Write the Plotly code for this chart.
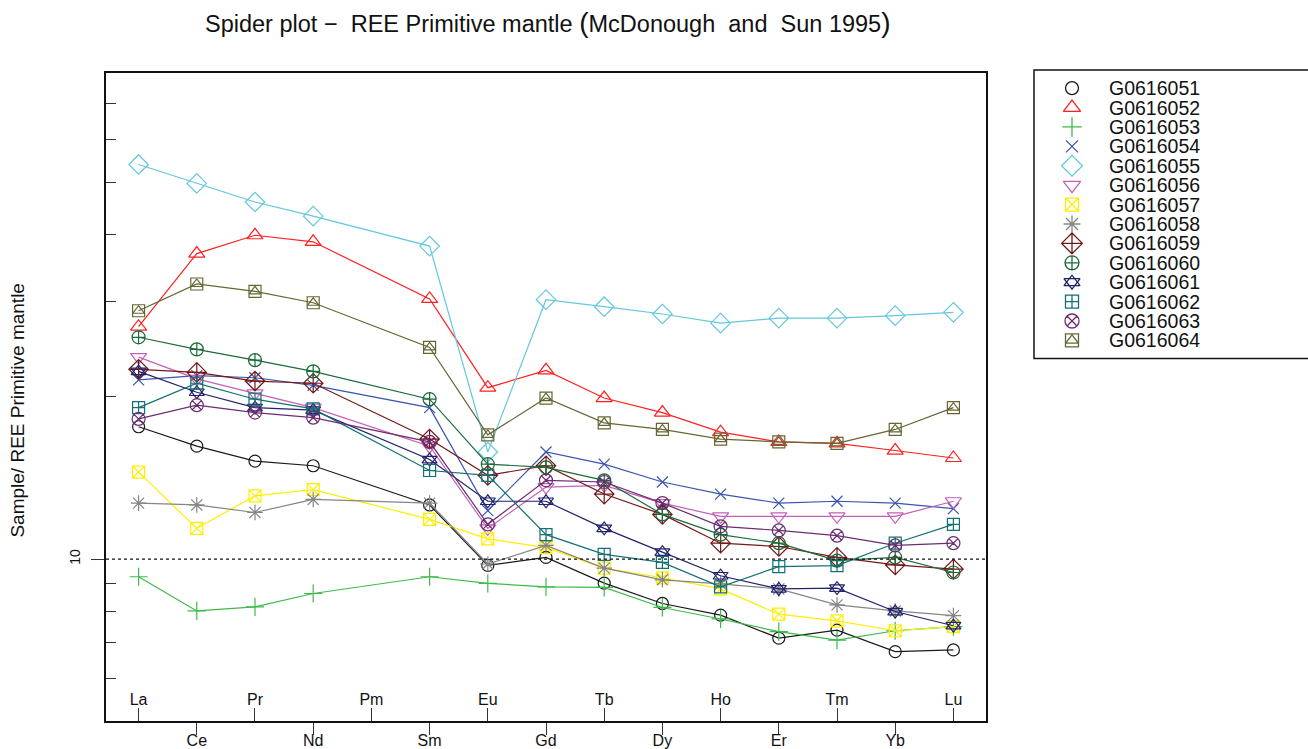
import plotly.graph_objects as go

W, H = 1308, 749
HD = 742  # effective vertical scale used for layout fractions

ELEMENTS = ["La", "Ce", "Pr", "Nd", "Pm", "Sm", "Eu", "Gd", "Tb", "Dy", "Ho", "Er", "Tm", "Yb", "Lu"]

# Normalised values (Sample / primitive mantle); Pm not analysed
G0616051 = [17.6, 16.2, 15.2, 14.9, None, 12.6, 9.73, 10.07, 9.02, 8.27, 7.87, 7.13, 7.38, 6.73, 6.78]
G0616052 = [27.0, 36.9, 39.9, 38.8, None, 30.4, 20.8, 22.4, 19.9, 18.7, 17.2, 16.5, 16.4, 15.9, 15.4]
G0616053 = [9.27, 8.01, 8.15, 8.63, None, 9.27, 9.01, 8.88, 8.86, 8.13, 7.74, 7.33, 7.07, 7.36, 7.49]
G0616054 = [21.5, 21.9, 21.7, 21.0, None, 19.1, 12.3, 15.8, 15.0, 13.9, 13.2, 12.7, 12.8, 12.7, 12.4]
G0616055 = [54.0, 49.8, 46.0, 43.3, None, 38.1, 15.8, 30.3, 29.4, 28.5, 27.4, 28.0, 28.0, 28.3, 28.7]
G0616056 = [23.7, 21.6, 20.3, 19.1, None, 16.2, 11.4, 13.6, 13.7, 12.7, 12.0, 12.0, 12.0, 12.0, 12.8]
G0616057 = [14.5, 11.4, 13.1, 13.45, None, 11.85, 10.9, 10.5, 9.62, 9.23, 8.80, 7.90, 7.68, 7.36, 7.49]
G0616058 = [12.7, 12.6, 12.2, 12.9, None, 12.7, 9.79, 10.6, 9.62, 9.15, 8.99, 8.80, 8.22, 8.01, 7.85]
G0616059 = [22.5, 22.2, 21.4, 21.2, None, 16.7, 14.3, 14.9, 13.2, 12.1, 10.7, 10.55, 10.07, 9.75, 9.58]
G0616060 = [25.8, 24.5, 23.4, 22.3, None, 19.8, 15.0, 14.8, 14.0, 12.1, 11.1, 10.7, 9.93, 10.07, 9.44]
G0616061 = [22.3, 20.4, 19.1, 18.9, None, 15.3, 12.8, 12.8, 11.4, 10.3, 9.31, 8.80, 8.83, 7.99, 7.52]
G0616062 = [19.1, 21.2, 19.8, 19.0, None, 14.6, 14.3, 11.1, 10.2, 9.86, 8.88, 9.68, 9.72, 10.7, 11.6]
G0616063 = [18.2, 19.3, 18.7, 18.3, None, 16.5, 11.6, 14.0, 13.9, 12.7, 11.5, 11.3, 11.05, 10.6, 10.7]
G0616064 = [28.9, 32.4, 31.4, 29.9, None, 24.7, 17.0, 19.9, 17.9, 17.4, 16.7, 16.5, 16.4, 17.4, 19.1]

SAMPLES = ["G0616051", "G0616052", "G0616053", "G0616054", "G0616055", "G0616056", "G0616057",
           "G0616058", "G0616059", "G0616060", "G0616061", "G0616062", "G0616063", "G0616064"]
VALUES = [G0616051, G0616052, G0616053, G0616054, G0616055, G0616056, G0616057,
          G0616058, G0616059, G0616060, G0616061, G0616062, G0616063, G0616064]
COLORS = ["#1a1a1a", "#ff2020", "#3dbb4a", "#3a55b0", "#62c8de", "#c460b8", "#ffee00",
          "#858585", "#731818", "#1b6b3a", "#22216e", "#127174", "#6b2c72", "#666633"]
SYMBOLS = ["circle-open", "triangle-up-open", "cross-thin-open", "x-thin-open", "diamond-open",
           "triangle-down-open", "square-x-open", "asterisk-open", "diamond-cross-open",
           "circle-cross-open", "triangle-up-open", "square-cross-open", "circle-x-open", "square-open"]
# secondary overlay glyph (R pch 11 = star of David, pch 14 = square with triangle)
OVERLAY = {10: ("triangle-down-open", 13), 13: ("triangle-up-open", 10)}
SIZES = [12, 14, 13, 11, 15, 14, 12, 13, 15, 13, 13, 12, 13, 12]

Y_MINOR = [6, 7, 8, 9, 20, 30, 40, 50, 60, 70]
FONT = "Liberation Sans, Arial, Helvetica, sans-serif"

xs = list(range(1, len(ELEMENTS) + 1))

fig = go.Figure()

for i, (name, vals) in enumerate(zip(SAMPLES, VALUES)):
    fig.add_trace(go.Scatter(
        x=xs, y=vals, mode="lines+markers", name=name, connectgaps=True,
        line=dict(color=COLORS[i], width=1.2),
        marker=dict(symbol=SYMBOLS[i], size=SIZES[i], color=COLORS[i],
                    line=dict(color=COLORS[i], width=1.2)),
        showlegend=False, xaxis="x", yaxis="y"))
    if i in OVERLAY:
        sym, sz = OVERLAY[i]
        fig.add_trace(go.Scatter(
            x=xs, y=vals, mode="markers", connectgaps=True,
            marker=dict(symbol=sym, size=sz, color=COLORS[i],
                        line=dict(color=COLORS[i], width=1.2)),
            showlegend=False, hoverinfo="skip", xaxis="x", yaxis="y"))

# dummy trace to activate secondary x axis (inside labels)
fig.add_trace(go.Scatter(x=[], y=[], xaxis="x2", yaxis="y", showlegend=False, hoverinfo="skip"))

# manual legend
rows = list(range(len(SAMPLES)))
for i in rows:
    fig.add_trace(go.Scatter(
        x=[38], y=[i], mode="markers", xaxis="x3", yaxis="y3", showlegend=False, hoverinfo="skip",
        marker=dict(symbol=SYMBOLS[i], size=SIZES[i] + 1, color=COLORS[i],
                    line=dict(color=COLORS[i], width=1.3))))
    if i in OVERLAY:
        sym, sz = OVERLAY[i]
        fig.add_trace(go.Scatter(
            x=[38], y=[i], mode="markers", xaxis="x3", yaxis="y3", showlegend=False, hoverinfo="skip",
            marker=dict(symbol=sym, size=sz + 1, color=COLORS[i],
                        line=dict(color=COLORS[i], width=1.3))))
    fig.add_annotation(x=73, y=i, xref="x3", yref="y3", text=SAMPLES[i], showarrow=False,
                       xanchor="left", yanchor="middle", height=18,
                       font=dict(family=FONT, size=19.5, color="#111"))

odd_idx = [k for k in range(len(ELEMENTS)) if k % 2 == 0]
even_idx = [k for k in range(len(ELEMENTS)) if k % 2 == 1]

XR = [0.44, 15.56]
YR = [0.6994, 1.902]

fig.update_layout(
    width=W, height=H,
    margin=dict(l=0, r=0, t=0, b=0),
    paper_bgcolor="white", plot_bgcolor="white",
    font=dict(family=FONT, color="#111"),
    showlegend=False,
    xaxis=dict(domain=[106 / W, 986 / W], range=XR, showgrid=False, zeroline=False,
               showline=True, mirror=True, linecolor="#111", linewidth=1.5,
               tickmode="array", tickvals=[xs[k] for k in even_idx],
               ticktext=[ELEMENTS[k] for k in even_idx],
               ticks="outside", ticklen=12, tickcolor="#333", tickwidth=1,
               ticklabelstandoff=-8,
               tickfont=dict(family=FONT, size=16, color="#111"), anchor="y"),
    xaxis2=dict(overlaying="x", side="bottom", anchor="y", range=XR, showgrid=False,
                zeroline=False, showline=False, tickmode="array",
                tickvals=[xs[k] for k in odd_idx], ticktext=[ELEMENTS[k] for k in odd_idx],
                ticks="inside", ticklen=13, tickcolor="#333", tickwidth=1,
                ticklabelposition="inside",
                tickfont=dict(family=FONT, size=16, color="#111")),
    yaxis=dict(domain=[1 - 720 / HD, 1 - 73 / HD], type="log", range=YR, showgrid=False,
               zeroline=False, showline=True, mirror=True, linecolor="#111", linewidth=1.5,
               tickmode="array", tickvals=[10], ticktext=["10"], ticks="outside",
               ticklen=13, tickcolor="#333", tickwidth=1, tickangle=-90,
               ticklabelstandoff=6,
               tickfont=dict(family=FONT, size=14, color="#111"),
               minor=dict(tickmode="array", tickvals=Y_MINOR, ticks="inside", ticklen=10,
                          tickcolor="#333", tickwidth=1, showgrid=False), anchor="x"),
    xaxis3=dict(domain=[1034 / W, 1.0], range=[0, 274], visible=False, fixedrange=True, anchor="y3"),
    yaxis3=dict(domain=[1 - 358 / HD, 1 - 70 / HD], range=[13.93, -0.929], visible=False,
                fixedrange=True, anchor="x3"),
)

# reference line at 10
fig.add_shape(type="line", xref="x domain", yref="y", x0=0, x1=1, y0=10, y1=10,
              line=dict(color="#111", width=1.2, dash="dot"))

# legend frame
fig.add_shape(type="rect", xref="paper", yref="paper", x0=1034 / W, x1=1.02,
              y0=1 - 358 / HD, y1=1 - 70 / HD, line=dict(color="#111", width=1.5),
              fillcolor="rgba(0,0,0,0)", layer="below")

# title
fig.add_annotation(
    x=548 / W, y=1 - 22 / HD, xref="paper", yref="paper", showarrow=False,
    xanchor="center", yanchor="middle",
    text="Spider plot \u2212\u00a0 REE Primitive mantle <span style='font-size:28px'>(</span>McDonough\u00a0 and\u00a0 Sun 1995<span style='font-size:28px'>)</span>",
    font=dict(family=FONT, size=23.5, color="#111"))

# y axis title
fig.add_annotation(
    x=18 / W, y=1 - 410 / HD, xref="paper", yref="paper", showarrow=False,
    xanchor="center", yanchor="middle", textangle=-90,
    text="Sample/ REE Primitive mantle", font=dict(family=FONT, size=19, color="#111"))

fig.write_html("out.html")
